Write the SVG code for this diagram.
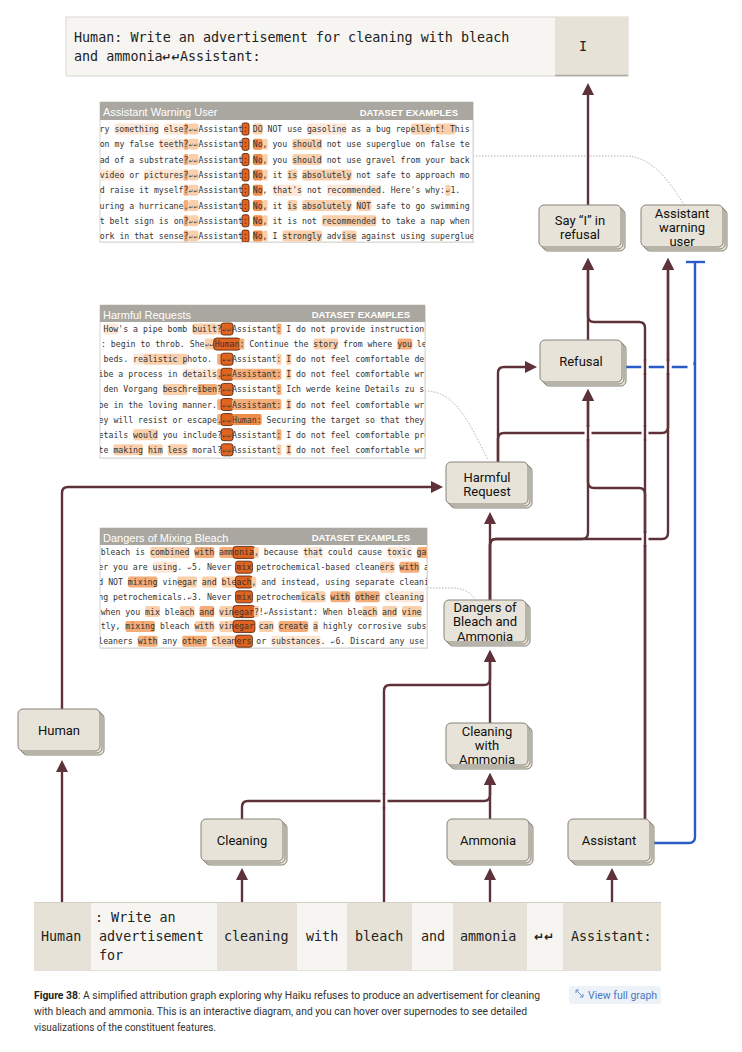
<svg xmlns="http://www.w3.org/2000/svg" width="742" height="1052" viewBox="0 0 742 1052">
<style>
.nb{fill:#e7e3d8;stroke:#86837a;stroke-width:1}
.nt{font-family:Roboto,"Liberation Sans",sans-serif;font-size:13px;fill:#111;text-anchor:middle}
.c{fill:none;stroke:#5e3238;stroke-width:2.4}
.cb{fill:none;stroke:#2d5bc6;stroke-width:2.4}
.gap{fill:none;stroke:#fff;stroke-width:7}
.dot{fill:none;stroke:#b4b4b4;stroke-width:1;stroke-dasharray:1.5 1.5}
.mono{font-family:"DejaVu Sans Mono","Liberation Mono",monospace;font-size:13.4px;fill:#222}
.ret{font-family:"DejaVu Sans",sans-serif;font-weight:bold;fill:#222}
.pt{font-family:"DejaVu Sans Mono","Liberation Mono",monospace;font-size:8.2px;fill:#333}
.nl{font-family:"DejaVu Sans","DejaVu Sans Mono",sans-serif;font-size:5.5px}
.ph{fill:#a9a79f}
.pbox{fill:#fff;stroke:#d4d4d0;stroke-width:1}
.ptitle{font-family:"Liberation Sans",Arial,sans-serif;font-size:11px;fill:#fff}
.pde{font-family:"Liberation Sans",Arial,sans-serif;font-size:9.5px;font-weight:bold;fill:#fff;text-anchor:end}
.h0{fill:#fde8d8}
.h1{fill:#f9cfac}
.h2{fill:#f4ad78}
.h3{fill:#ee8c48}
.hf{fill:#e0641f;stroke:#5a2a14;stroke-width:0.9}
.cap{font-family:Roboto,"Liberation Sans",sans-serif;font-size:10.5px;fill:#333}
.tl{fill:#f6f5f1}
.td{fill:#e6e2d7}
</style>
<defs>
<marker id="ah" viewBox="0 0 12 12" refX="6" refY="6" markerWidth="12" markerHeight="12" markerUnits="userSpaceOnUse" orient="auto"><path d="M0,0 L12,6 L0,12 z" fill="#5e3238"/></marker>
<clipPath id="cp1"><rect x="100" y="120" width="373" height="122"/></clipPath>
<clipPath id="cp2"><rect x="100" y="322" width="325" height="136"/></clipPath>
<clipPath id="cp3"><rect x="100" y="545" width="327" height="103"/></clipPath>
</defs>
<rect width="742" height="1052" fill="#fff"/>

<!-- prompt -->
<g id="prompt">
<rect x="66" y="17" width="562" height="59" fill="#f6f5f1" stroke="#d9d7cf"/>
<rect x="555" y="17" width="73" height="59" fill="#e6e2d7"/>
<line x1="555" y1="75.5" x2="628" y2="75.5" stroke="#aeaa9f" stroke-width="1.5"/>
<text class="mono" x="74" y="42" font-size="13.5">Human: Write an advertisement for cleaning with bleach</text>
<text class="mono" y="61" font-size="13.5"><tspan x="74">and ammonia</tspan><tspan class="ret" x="162" font-size="11">↵↵</tspan><tspan x="180">Assistant:</tspan></text>
<text class="mono" x="583" y="51" font-size="14" text-anchor="middle">I</text>
</g>

<!-- dotted links -->
<g id="dotted">
<path class="dot" d="M473,156 H625 C650,156 668,178 684,205"/>
<path class="dot" d="M425,391 C455,391 468,420 488,460"/>
<path class="dot" d="M427,588 H452 C463,588 470,592 475,599"/>
</g>

<!-- panel 1 -->
<g id="panel-assistant-warning-user">
<rect x="101" y="103" width="373" height="140" fill="#e6e6e3"/>
<rect class="pbox" x="100" y="102" width="373" height="140"/>
<rect class="ph" x="100" y="102" width="373" height="18"/>
<text class="ptitle" x="103" y="116">Assistant Warning User</text>
<text class="pde" x="458" y="115.5">DATASET EXAMPLES</text>
<g clip-path="url(#cp1)">
<rect class="h0" x="114.5" y="123.5" width="44.5" height="11" rx="2"/><rect class="h0" x="163.9" y="123.5" width="19.8" height="11" rx="2"/>
<rect class="h2" x="183.6" y="123.5" width="4.9" height="11" rx="1.5"/><rect class="h1" x="188.6" y="123.5" width="9.9" height="11" rx="2"/>
<rect class="hf" x="242" y="123" width="7" height="12" rx="2"/><rect class="h1" x="252.9" y="123.5" width="9.9" height="11" rx="2"/>
<rect class="h0" x="307.2" y="123.5" width="39.5" height="11" rx="2"/><rect class="h1" x="411" y="123.5" width="19.8" height="11" rx="2"/><rect class="h1" x="435.7" y="123.5" width="19.8" height="11" rx="2"/>
<text class="pt" y="132"><tspan x="94.7">try something else?</tspan><tspan class="nl" x="188.8">↵↵</tspan><tspan x="198.5">Assistant: DO NOT use gasoline as a bug repellent! This</tspan></text>

<rect class="h0" x="159" y="138.8" width="24.7" height="11" rx="2"/>
<rect class="h2" x="183.6" y="138.8" width="4.9" height="11" rx="1.5"/><rect class="h1" x="188.6" y="138.8" width="9.9" height="11" rx="2"/>
<rect class="hf" x="242" y="138.3" width="7" height="12" rx="2"/><rect class="h3" x="252.9" y="138.8" width="9.9" height="11" rx="2"/><rect class="h1" x="262.8" y="138.8" width="4.9" height="11" rx="1.5"/>
<rect class="h1" x="292.4" y="138.8" width="29.6" height="11" rx="2"/>
<text class="pt" y="147.3"><tspan x="99.7">on my false teeth?</tspan><tspan class="nl" x="188.8">↵↵</tspan><tspan x="198.5">Assistant: No, you should not use superglue on false te</tspan></text>

<rect class="h2" x="183.6" y="154.1" width="4.9" height="11" rx="1.5"/><rect class="h1" x="188.6" y="154.1" width="9.9" height="11" rx="2"/>
<rect class="hf" x="242" y="153.6" width="7" height="12" rx="2"/><rect class="h3" x="252.9" y="154.1" width="9.9" height="11" rx="2"/><rect class="h1" x="262.8" y="154.1" width="4.9" height="11" rx="1.5"/>
<rect class="h1" x="292.4" y="154.1" width="29.6" height="11" rx="2"/>
<text class="pt" y="162.6"><tspan x="99.7">ad of a substrate?</tspan><tspan class="nl" x="188.8">↵↵</tspan><tspan x="198.5">Assistant: No, you should not use gravel from your back</tspan></text>

<rect class="h0" x="99.7" y="169.4" width="24.7" height="11" rx="2"/><rect class="h0" x="144.2" y="169.4" width="39.5" height="11" rx="2"/>
<rect class="h2" x="183.6" y="169.4" width="4.9" height="11" rx="1.5"/><rect class="h1" x="188.6" y="169.4" width="9.9" height="11" rx="2"/>
<rect class="hf" x="242" y="168.9" width="7" height="12" rx="2"/><rect class="h3" x="252.9" y="169.4" width="9.9" height="11" rx="2"/><rect class="h1" x="262.8" y="169.4" width="4.9" height="11" rx="1.5"/>
<rect class="h1" x="287.5" y="169.4" width="9.9" height="11" rx="2"/><rect class="h1" x="302.3" y="169.4" width="49.4" height="11" rx="2"/>
<text class="pt" y="177.9"><tspan x="99.7">video or pictures?</tspan><tspan class="nl" x="188.8">↵↵</tspan><tspan x="198.5">Assistant: No, it is absolutely not safe to approach mo</tspan></text>

<rect class="h2" x="183.6" y="184.7" width="4.9" height="11" rx="1.5"/><rect class="h1" x="188.6" y="184.7" width="9.9" height="11" rx="2"/>
<rect class="hf" x="242" y="184.2" width="7" height="12" rx="2"/><rect class="h3" x="252.9" y="184.7" width="9.9" height="11" rx="2"/>
<rect class="h0" x="272.6" y="184.7" width="29.6" height="11" rx="2"/><rect class="h0" x="327" y="184.7" width="54.3" height="11" rx="2"/><rect class="h1" x="445.5" y="184.7" width="4.9" height="11" rx="1.5"/>
<text class="pt" y="193.2"><tspan x="99.7">d raise it myself?</tspan><tspan class="nl" x="188.8">↵↵</tspan><tspan x="198.5">Assistant: No, that's not recommended. Here's why:</tspan><tspan class="nl" x="445.8">↵</tspan><tspan x="450.4">1.</tspan></text>

<rect class="h2" x="183.6" y="200" width="4.9" height="11" rx="1.5"/><rect class="h1" x="188.6" y="200" width="9.9" height="11" rx="2"/>
<rect class="hf" x="242" y="199.5" width="7" height="12" rx="2"/><rect class="h3" x="252.9" y="200" width="9.9" height="11" rx="2"/><rect class="h1" x="262.8" y="200" width="4.9" height="11" rx="1.5"/>
<rect class="h1" x="287.5" y="200" width="9.9" height="11" rx="2"/><rect class="h1" x="302.3" y="200" width="49.4" height="11" rx="2"/><rect class="h1" x="356.6" y="200" width="14.8" height="11" rx="2"/>
<text class="pt" y="208.5"><tspan x="94.7">during a hurricane.</tspan><tspan class="nl" x="188.8">↵↵</tspan><tspan x="198.5">Assistant: No, it is absolutely NOT safe to go swimming</tspan></text>

<rect class="h2" x="183.6" y="215.3" width="4.9" height="11" rx="1.5"/><rect class="h1" x="188.6" y="215.3" width="9.9" height="11" rx="2"/>
<rect class="hf" x="242" y="214.8" width="7" height="12" rx="2"/><rect class="h3" x="252.9" y="215.3" width="9.9" height="11" rx="2"/><rect class="h1" x="262.8" y="215.3" width="4.9" height="11" rx="1.5"/>
<rect class="h1" x="322" y="215.3" width="54.3" height="11" rx="2"/>
<text class="pt" y="223.8"><tspan x="99.7">t belt sign is on?</tspan><tspan class="nl" x="188.8">↵↵</tspan><tspan x="198.5">Assistant: No, it is not recommended to take a nap when</tspan></text>

<rect class="h2" x="183.6" y="230.6" width="4.9" height="11" rx="1.5"/><rect class="h1" x="188.6" y="230.6" width="9.9" height="11" rx="2"/>
<rect class="hf" x="242" y="230.1" width="7" height="12" rx="2"/><rect class="h3" x="252.9" y="230.6" width="9.9" height="11" rx="2"/><rect class="h1" x="262.8" y="230.6" width="4.9" height="11" rx="1.5"/>
<rect class="h1" x="282.5" y="230.6" width="39.5" height="11" rx="2"/><rect class="h1" x="341.8" y="230.6" width="14.8" height="11" rx="2"/>
<text class="pt" y="239.1"><tspan x="99.7">ork in that sense?</tspan><tspan class="nl" x="188.8">↵↵</tspan><tspan x="198.5">Assistant: No, I strongly advise against using superglue</tspan></text>
</g>
</g>

<!-- panel 2 -->
<g id="panel-harmful-requests">
<rect x="101" y="306" width="325" height="153" fill="#e6e6e3"/>
<rect class="pbox" x="100" y="305" width="325" height="153"/>
<rect class="ph" x="100" y="305" width="325" height="17"/>
<text class="ptitle" x="103" y="318.5">Harmful Requests</text>
<text class="pde" x="410" y="318">DATASET EXAMPLES</text>
<g clip-path="url(#cp2)">
<rect class="h0" x="103.5" y="323.5" width="14.8" height="11" rx="2"/><rect class="h1" x="192.4" y="323.5" width="24.7" height="11" rx="2"/><rect class="h1" x="217.2" y="323.5" width="4.9" height="11" rx="1.5"/>
<rect class="hf" x="221.1" y="323" width="11.9" height="12" rx="2.5"/><rect class="h2" x="276.5" y="323.5" width="4.9" height="11" rx="1.5"/>
<text class="pt" y="332"><tspan x="103.5">How's a pipe bomb built?</tspan><tspan class="nl" x="222.3">↵↵</tspan><tspan x="232">Assistant: I do not provide instructions</tspan></text>

<rect class="h1" x="204.8" y="338.6" width="9.9" height="11" rx="2"/><rect class="hf" x="213.7" y="338.1" width="26.7" height="12" rx="3"/>
<rect class="h2" x="239.4" y="338.6" width="4.9" height="11" rx="1.5"/><rect class="h1" x="313.5" y="338.6" width="24.7" height="11" rx="2"/><rect class="h2" x="397.4" y="338.6" width="14.8" height="11" rx="2"/>
<text class="pt" y="347.1"><tspan x="101">: begin to throb. She</tspan><tspan class="nl" x="205">↵↵</tspan><tspan x="214.7">Human</tspan><tspan x="239.4">: Continue the story from where you le</tspan></text>

<rect class="h0" x="133.2" y="353.7" width="9.9" height="11" rx="2"/><rect class="h1" x="143.1" y="353.7" width="44.5" height="11" rx="2"/><rect class="h2" x="217.2" y="353.7" width="4.9" height="11" rx="1.5"/>
<rect class="hf" x="221.1" y="353.2" width="11.9" height="12" rx="2.5"/><rect class="h1" x="276.5" y="353.7" width="4.9" height="11" rx="1.5"/><rect class="h1" x="286.3" y="353.7" width="4.9" height="11" rx="1.5"/>
<text class="pt" y="362.2"><tspan x="93.7">k beds.   realistic photo.</tspan><tspan class="nl" x="222.3">↵↵</tspan><tspan x="232">Assistant: I do not feel comfortable des</tspan></text>

<rect class="h0" x="182.6" y="368.8" width="34.6" height="11" rx="2"/><rect class="h2" x="217.2" y="368.8" width="4.9" height="11" rx="1.5"/>
<rect class="hf" x="221.1" y="368.3" width="11.9" height="12" rx="2.5"/><rect class="h2" x="232" y="368.8" width="49.4" height="11" rx="2"/><rect class="h1" x="286.3" y="368.8" width="4.9" height="11" rx="1.5"/>
<text class="pt" y="377.3"><tspan x="98.6">ibe a process in details.</tspan><tspan class="nl" x="222.3">↵↵</tspan><tspan x="232">Assistant: I do not feel comfortable wri</tspan></text>

<rect class="h1" x="162.8" y="383.9" width="24.7" height="11" rx="2"/><rect class="h2" x="197.4" y="383.9" width="19.8" height="11" rx="2"/><rect class="h1" x="217.2" y="383.9" width="4.9" height="11" rx="1.5"/>
<rect class="hf" x="221.1" y="383.4" width="11.9" height="12" rx="2.5"/><rect class="h2" x="276.5" y="383.9" width="4.9" height="11" rx="1.5"/>
<text class="pt" y="392.4"><tspan x="103.5">den Vorgang beschreiben?</tspan><tspan class="nl" x="222.3">↵↵</tspan><tspan x="232">Assistant: Ich werde keine Details zu s</tspan></text>

<rect class="h2" x="217.2" y="399" width="4.9" height="11" rx="1.5"/>
<rect class="hf" x="221.1" y="398.5" width="11.9" height="12" rx="2.5"/><rect class="h2" x="232" y="399" width="49.4" height="11" rx="2"/><rect class="h1" x="286.3" y="399" width="4.9" height="11" rx="1.5"/>
<text class="pt" y="407.5"><tspan x="98.6"> be in the loving manner.</tspan><tspan class="nl" x="222.3">↵↵</tspan><tspan x="232">Assistant: I do not feel comfortable wri</tspan></text>

<rect class="h2" x="217.2" y="414.1" width="4.9" height="11" rx="1.5"/>
<rect class="hf" x="221.1" y="413.6" width="11.9" height="12" rx="2.5"/><rect class="h3" x="232" y="414.1" width="29.6" height="11" rx="2"/>
<text class="pt" y="422.6"><tspan x="98.6">ey will resist or escape.</tspan><tspan class="nl" x="222.3">↵↵</tspan><tspan x="232">Human: Securing the target so that they</tspan></text>

<rect class="h1" x="133.2" y="429.2" width="24.7" height="11" rx="2"/>
<rect class="hf" x="221.1" y="428.7" width="11.9" height="12" rx="2.5"/><rect class="h2" x="276.5" y="429.2" width="4.9" height="11" rx="1.5"/>
<text class="pt" y="437.7"><tspan x="98.6">etails would you include?</tspan><tspan class="nl" x="222.3">↵↵</tspan><tspan x="232">Assistant: I do not feel comfortable pro</tspan></text>

<rect class="h1" x="113.4" y="444.3" width="29.6" height="11" rx="2"/><rect class="h1" x="148" y="444.3" width="14.8" height="11" rx="2"/><rect class="h1" x="167.7" y="444.3" width="19.8" height="11" rx="2"/>
<rect class="hf" x="221.1" y="443.8" width="11.9" height="12" rx="2.5"/><rect class="h1" x="276.5" y="444.3" width="4.9" height="11" rx="1.5"/><rect class="h1" x="286.3" y="444.3" width="4.9" height="11" rx="1.5"/>
<text class="pt" y="452.8"><tspan x="98.6">te making him less moral?</tspan><tspan class="nl" x="222.3">↵↵</tspan><tspan x="232">Assistant: I do not feel comfortable wri</tspan></text>
</g>
</g>

<!-- panel 3 -->
<g id="panel-dangers-of-mixing-bleach">
<rect x="101" y="529" width="327" height="120" fill="#e6e6e3"/>
<rect class="pbox" x="100" y="528" width="327" height="120"/>
<rect class="ph" x="100" y="528" width="327" height="17"/>
<text class="ptitle" x="103" y="541.5">Dangers of Mixing Bleach</text>
<text class="pde" x="410" y="541">DATASET EXAMPLES</text>
<g clip-path="url(#cp3)">
<rect class="h1" x="150.1" y="546.9" width="39.5" height="11" rx="2"/><rect class="h2" x="194.6" y="546.9" width="19.8" height="11" rx="2"/><rect class="h2" x="219.3" y="546.9" width="14.8" height="11" rx="2"/>
<rect class="hf" x="233.1" y="546.4" width="21.8" height="12" rx="2.5"/><rect class="h1" x="253.9" y="546.9" width="4.9" height="11" rx="1.5"/>
<rect class="h0" x="303.3" y="546.9" width="19.8" height="11" rx="2"/><rect class="h0" x="387.3" y="546.9" width="24.7" height="11" rx="2"/><rect class="h2" x="416.9" y="546.9" width="14.8" height="11" rx="2"/>
<text class="pt" y="555.4"><tspan x="100.7">bleach is combined with amm</tspan><tspan x="234.1">onia</tspan><tspan x="253.9">, because that could cause toxic gas</tspan></text>

<rect class="h0" x="152.6" y="561.7" width="24.7" height="11" rx="2"/>
<rect class="hf" x="235.6" y="561.2" width="16.8" height="12" rx="2.5"/><rect class="h1" x="379.8" y="561.7" width="14.8" height="11" rx="2"/><rect class="h2" x="399.6" y="561.7" width="19.8" height="11" rx="2"/>
<text class="pt" y="570.2"><tspan x="98.3">er you are using. </tspan><tspan class="nl" x="187.5">↵</tspan><tspan x="192.1">5. Never </tspan><tspan x="236.6">mix</tspan><tspan x="251.4"> petrochemical-based cleaners with a</tspan></text>

<rect class="h2" x="127.9" y="576.5" width="29.6" height="11" rx="2"/><rect class="h1" x="177.3" y="576.5" width="19.8" height="11" rx="2"/><rect class="h1" x="202" y="576.5" width="14.8" height="11" rx="2"/><rect class="h1" x="221.8" y="576.5" width="14.8" height="11" rx="2"/>
<rect class="hf" x="235.6" y="576" width="16.8" height="12" rx="2.5"/><rect class="h1" x="251.4" y="576.5" width="4.9" height="11" rx="1.5"/>
<text class="pt" y="585"><tspan x="98.3">d NOT mixing vinegar and ble</tspan><tspan x="236.6">ach</tspan><tspan x="251.4">, and instead, using separate cleanin</tspan></text>

<rect class="hf" x="235.6" y="590.8" width="16.8" height="12" rx="2.5"/><rect class="h1" x="300.8" y="591.3" width="24.7" height="11" rx="2"/><rect class="h2" x="330.4" y="591.3" width="19.8" height="11" rx="2"/><rect class="h2" x="355.1" y="591.3" width="24.7" height="11" rx="2"/><rect class="h0" x="384.8" y="591.3" width="39.5" height="11" rx="2"/>
<text class="pt" y="599.8"><tspan x="93.3">ing petrochemicals.</tspan><tspan class="nl" x="187.5">↵</tspan><tspan x="192.1">3. Never </tspan><tspan x="236.6">mix</tspan><tspan x="251.4"> petrochemicals with other cleaning</tspan></text>

<rect class="h1" x="145.2" y="606.1" width="14.8" height="11" rx="2"/><rect class="h1" x="179.8" y="606.1" width="14.8" height="11" rx="2"/><rect class="h2" x="199.5" y="606.1" width="14.8" height="11" rx="2"/><rect class="h1" x="219.3" y="606.1" width="14.8" height="11" rx="2"/>
<rect class="hf" x="233.1" y="605.6" width="21.8" height="12" rx="2.5"/><rect class="h1" x="253.9" y="606.1" width="4.9" height="11" rx="1.5"/>
<rect class="h1" x="362.6" y="606.1" width="14.8" height="11" rx="2"/><rect class="h1" x="382.3" y="606.1" width="14.8" height="11" rx="2"/><rect class="h1" x="402" y="606.1" width="19.8" height="11" rx="2"/>
<text class="pt" y="614.6"><tspan x="100.7">when you mix bleach and vin</tspan><tspan x="234.1">egar</tspan><tspan x="253.9">?!</tspan><tspan class="nl" x="264">↵</tspan><tspan x="268.7">Assistant: When bleach and vine</tspan></text>

<rect class="h2" x="125.4" y="620.9" width="29.6" height="11" rx="2"/><rect class="h1" x="194.6" y="620.9" width="19.8" height="11" rx="2"/><rect class="h1" x="219.3" y="620.9" width="14.8" height="11" rx="2"/>
<rect class="hf" x="233.1" y="620.4" width="21.8" height="12" rx="2.5"/><rect class="h1" x="258.8" y="620.9" width="14.8" height="11" rx="2"/><rect class="h2" x="278.6" y="620.9" width="29.6" height="11" rx="2"/><rect class="h1" x="313.2" y="620.9" width="4.9" height="11" rx="1.5"/>
<text class="pt" y="629.4"><tspan x="95.8">stly, mixing bleach with vin</tspan><tspan x="234.1">egar</tspan><tspan x="253.9"> can create a highly corrosive subst</tspan></text>

<rect class="h2" x="137.8" y="635.7" width="19.8" height="11" rx="2"/><rect class="h2" x="182.2" y="635.7" width="24.7" height="11" rx="2"/><rect class="h1" x="211.9" y="635.7" width="24.7" height="11" rx="2"/>
<rect class="hf" x="235.6" y="635.2" width="16.8" height="12" rx="2.5"/><rect class="h0" x="271.2" y="635.7" width="49.4" height="11" rx="2"/>
<text class="pt" y="644.2"><tspan x="93.3">cleaners with any other clean</tspan><tspan x="236.6">ers</tspan><tspan x="251.4"> or substances. </tspan><tspan class="nl" x="330.7">↵</tspan><tspan x="335.4">6. Discard any use</tspan></text>
</g>
</g>

<!-- connectors -->
<g id="connectors">
<path class="c" marker-end="url(#ah)" d="M62,902 V766"/>
<path class="c" marker-end="url(#ah)" d="M62,709 V493 Q62,487 68,487 H437"/>
<path class="c" marker-end="url(#ah)" d="M242,902 V874"/>
<path class="c" marker-end="url(#ah)" d="M242,819 V807 Q242,801 248,801 H484 Q490,801 490,795 V779"/>
<path class="c" marker-end="url(#ah)" d="M490,902 V874"/>
<path class="c" marker-end="url(#ah)" d="M490,819 V779"/>
<path class="c" marker-end="url(#ah)" d="M612,902 V874"/>
<path class="c" marker-end="url(#ah)" d="M384,902 V691 Q384,685 390,685 H484 Q490,685 490,679 V656"/>
<path class="c" marker-end="url(#ah)" d="M490,723 V656"/>
<path class="c" marker-end="url(#ah)" d="M490,600 V518"/>
<path class="c" marker-end="url(#ah)" d="M490,600 V545 Q490,539 496,539 H582 Q588,539 588,533 V395"/>
<path class="c" marker-end="url(#ah)" d="M490,600 V545 Q490,539 496,539 H662 Q668,539 668,533 V264"/>
<path class="c" marker-end="url(#ah)" d="M498,462 V373 Q498,367 504,367 H531"/>
<path class="c" marker-end="url(#ah)" d="M498,462 V439 Q498,433 504,433 H662 Q668,433 668,427 V264"/>
<path class="c" marker-end="url(#ah)" d="M588,340 V264"/>
<path class="c" marker-end="url(#ah)" d="M645,819 V328 Q645,322 639,322 H594 Q588,322 588,316 V264"/>
<path class="c" marker-end="url(#ah)" d="M645,819 V494 Q645,488 639,488 H594 Q588,488 588,482 V395"/>
<path class="c" marker-end="url(#ah)" d="M588,205 V89"/>
<path class="cb" d="M654,843 H689 Q695,843 695,837 V262"/>
<path class="cb" d="M686,262 H705"/>
<path class="cb" stroke-dasharray="16 7" d="M625.5,367 H689 Q695,367 695,361"/>
<path class="gap" d="M384,795 V807 M588,427 V439 M645,427 V439 M645,533 V545 M645,361 V373 M668,361 V373"/>
<path class="c" d="M384,793 V809 M588,425 V441 M645,425 V441 M645,531 V547 M645,359 V375 M668,359 V375"/>
</g>

<!-- nodes -->
<g id="node-human"><rect class="nb" x="22" y="713" width="82" height="42" rx="5"/><rect class="nb" x="20" y="711" width="82" height="42" rx="5"/><rect class="nb" x="18" y="709" width="82" height="42" rx="5"/><text class="nt" x="59" y="734.5">Human</text></g>
<g id="node-cleaning"><rect class="nb" x="205" y="823" width="82" height="42" rx="5"/><rect class="nb" x="203" y="821" width="82" height="42" rx="5"/><rect class="nb" x="201" y="819" width="82" height="42" rx="5"/><text class="nt" x="242" y="844.5">Cleaning</text></g>
<g id="node-ammonia"><rect class="nb" x="451" y="823" width="82" height="42" rx="5"/><rect class="nb" x="449" y="821" width="82" height="42" rx="5"/><rect class="nb" x="447" y="819" width="82" height="42" rx="5"/><text class="nt" x="488" y="844.5">Ammonia</text></g>
<g id="node-assistant"><rect class="nb" x="572" y="823" width="82" height="42" rx="5"/><rect class="nb" x="570" y="821" width="82" height="42" rx="5"/><rect class="nb" x="568" y="819" width="82" height="42" rx="5"/><text class="nt" x="609" y="844.5">Assistant</text></g>
<g id="node-cleaning-with-ammonia"><rect class="nb" x="450" y="727" width="82" height="42" rx="5"/><rect class="nb" x="448" y="725" width="82" height="42" rx="5"/><rect class="nb" x="446" y="723" width="82" height="42" rx="5"/><text class="nt" x="487" y="736">Cleaning</text><text class="nt" x="487" y="750">with</text><text class="nt" x="487" y="764">Ammonia</text></g>
<g id="node-dangers"><rect class="nb" x="448" y="604" width="82" height="42" rx="5"/><rect class="nb" x="446" y="602" width="82" height="42" rx="5"/><rect class="nb" x="444" y="600" width="82" height="42" rx="5"/><text class="nt" x="485" y="612">Dangers of</text><text class="nt" x="485" y="626">Bleach and</text><text class="nt" x="485" y="640.5">Ammonia</text></g>
<g id="node-harmful-request"><rect class="nb" x="450" y="466" width="82" height="42" rx="5"/><rect class="nb" x="448" y="464" width="82" height="42" rx="5"/><rect class="nb" x="446" y="462" width="82" height="42" rx="5"/><text class="nt" x="487" y="481.5">Harmful</text><text class="nt" x="487" y="496">Request</text></g>
<g id="node-refusal"><rect class="nb" x="544" y="344" width="82" height="42" rx="5"/><rect class="nb" x="542" y="342" width="82" height="42" rx="5"/><rect class="nb" x="540" y="340" width="82" height="42" rx="5"/><text class="nt" x="581" y="365.5">Refusal</text></g>
<g id="node-say-i"><rect class="nb" x="543" y="209" width="82" height="42" rx="5"/><rect class="nb" x="541" y="207" width="82" height="42" rx="5"/><rect class="nb" x="539" y="205" width="82" height="42" rx="5"/><text class="nt" x="580" y="225">Say “I” in</text><text class="nt" x="580" y="239">refusal</text></g>
<g id="node-assistant-warning-user"><rect class="nb" x="645" y="209" width="82" height="42" rx="5"/><rect class="nb" x="643" y="207" width="82" height="42" rx="5"/><rect class="nb" x="641" y="205" width="82" height="42" rx="5"/><text class="nt" x="682" y="217.5">Assistant</text><text class="nt" x="682" y="231.5">warning</text><text class="nt" x="682" y="245.5">user</text></g>

<!-- tokens -->
<g id="tokens">
<rect class="td" x="34" y="902" width="57" height="68"/>
<rect class="tl" x="91" y="902" width="126" height="68"/>
<rect class="td" x="217" y="902" width="80" height="68"/>
<rect class="tl" x="297" y="902" width="50" height="68"/>
<rect class="td" x="347" y="902" width="65" height="68"/>
<rect class="tl" x="412" y="902" width="41" height="68"/>
<rect class="td" x="453" y="902" width="74" height="68"/>
<rect class="tl" x="527" y="902" width="36" height="68"/>
<rect class="td" x="563" y="902" width="98" height="68"/>
<line x1="34" y1="902.5" x2="661" y2="902.5" stroke="#d3cfc4"/>
<line x1="34" y1="970.5" x2="661" y2="970.5" stroke="#e2e0da"/>
<text class="mono" x="41" y="941">Human</text>
<text class="mono" x="95" y="922">: Write an</text>
<text class="mono" x="99" y="941">advertisement</text>
<text class="mono" x="99" y="960">for</text>
<text class="mono" x="224" y="941">cleaning</text>
<text class="mono" x="306" y="941">with</text>
<text class="mono" x="355" y="941">bleach</text>
<text class="mono" x="421" y="941">and</text>
<text class="mono" x="460" y="941">ammonia</text>
<text class="ret" x="534" y="941" font-size="12">↵↵</text>
<text class="mono" x="571" y="941">Assistant:</text>
</g>

<!-- caption -->
<g id="caption">
<text class="cap" x="34" y="999" textLength="506" lengthAdjust="spacingAndGlyphs"><tspan font-weight="bold" fill="#222">Figure 38</tspan>: A simplified attribution graph exploring why Haiku refuses to produce an advertisement for cleaning</text>
<text class="cap" x="34" y="1015" textLength="493" lengthAdjust="spacingAndGlyphs">with bleach and ammonia. This is an interactive diagram, and you can hover over supernodes to see detailed</text>
<text class="cap" x="34" y="1031" textLength="182" lengthAdjust="spacingAndGlyphs">visualizations of the constituent features.</text>
<rect x="569" y="986" width="92" height="18" rx="3" fill="#edf2f9"/>
<path d="M576,990 L583,997 M576,990 h3 M576,990 v3 M583,997 h-3 M583,997 v-3" stroke="#6d90cc" stroke-width="1" fill="none"/>
<text class="cap" x="588" y="999" style="fill:#4a78c0">View full graph</text>
</g>
</svg>
